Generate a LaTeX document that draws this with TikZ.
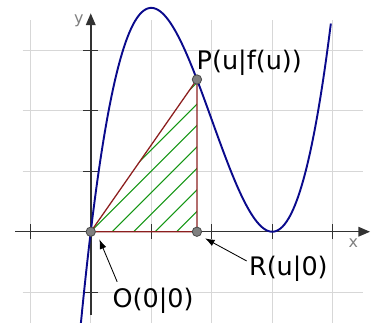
\documentclass[tikz,border=0pt]{standalone}
\usepackage{fontspec}
\setmainfont{DejaVu Sans}
\usetikzlibrary{arrows.meta}
\definecolor{curveblue}{RGB}{10,10,140}
\definecolor{trired}{RGB}{140,30,30}
\definecolor{hatchgreen}{RGB}{20,150,20}
\definecolor{gridgray}{RGB}{215,215,215}
\definecolor{axisgray}{RGB}{50,50,50}
\begin{document}
\begin{tikzpicture}[
        gridline/.style = {draw = gridgray, line width = 0.6pt},
        axis/.style = {draw = axisgray, line width = 0.7pt, -{Triangle[length = 5.5pt, width = 4.5pt]}},
        tick/.style = {draw = axisgray, line width = 0.6pt},
        axislabel/.style = {text = gray, font = \fontsize{7.5}{9}\selectfont},
        pt/.style = {circle, fill = gray, draw = black!70, line width = 0.4pt, inner sep = 0pt, minimum size = 4.4pt},
        ptlabel/.style = {font = \fontsize{12}{14}\selectfont},
        pointer/.style = {draw = black, line width = 0.4pt, -{Latex[length = 4.5pt, width = 3.2pt]}}
    ]
    \useasboundingbox (-1.5, -1.493) rectangle (4.698, 3.83);
    \def\u{1.755}
    \pgfmathsetmacro{\fu}{0.925*\u*(\u-3)^2}
    % grid
    \foreach \x in {-1, ..., 4}
        \draw[gridline] (\x, -1.6) -- (\x, 3.5);
    \foreach \y in {-1, ..., 3}
        \draw[gridline] (-1.125, \y) -- (4.5, \y);
    % axes with ticks
    \draw[axis] (-1.25, 0) -- (4.617, 0);
    \draw[axis] (0, -1.38) -- (0, 3.61);
    \foreach \x in {-1, 1, 2, 3, 4}
        \draw[tick] (\x, -0.12) -- (\x, 0.12);
    \foreach \y in {-1, 1, 2, 3}
        \draw[tick] (-0.12, \y) -- (0.12, \y);
    \node[axislabel] (xlab) at (4.34, -0.19) {x};
    \node[axislabel] (ylab) at (-0.195, 3.49) {y};
    \coordinate (O) at (0, 0);
    \coordinate (R) at (\u, 0);
    \coordinate (P) at (\u, \fu);
    % hatched triangle
    \begin{scope}
        \clip (O) -- (R) -- (P) -- cycle;
        \foreach \k in {-2, ..., 5}
            \draw[hatchgreen, line width = 0.5pt] (\k*0.355, 0) -- ++(3, 3);
    \end{scope}
    \draw[trired, line width = 0.6pt] (O) -- (R) -- (P) -- cycle;
    % graph
    \draw[curveblue, line width = 0.9pt, domain = -0.17:3.97, samples = 120, smooth]
        plot (\x, {0.925*\x*(\x-3)^2});
    % points and labels
    \node[pt] (o) at (O) {};
    \node[pt] (r) at (R) {};
    \node[pt] (p) at (P) {};
    \node[ptlabel] (plab) at (2.62, 2.795) {P(u|f(u))};
    \node[ptlabel] (rlab) at (3.266, -0.62) {R(u|0)};
    \node[ptlabel] (olab) at (1.03, -1.137) {O(0|0)};
    \coordinate (otail) at (0.436, -0.826);
    \coordinate (otip) at (0.142, -0.126);
    \coordinate (rtail) at (2.578, -0.484);
    \coordinate (rtip) at (1.889, -0.109);
    \draw[pointer] (otail) -- (otip);
    \draw[pointer] (rtail) -- (rtip);
\end{tikzpicture}
\end{document}
